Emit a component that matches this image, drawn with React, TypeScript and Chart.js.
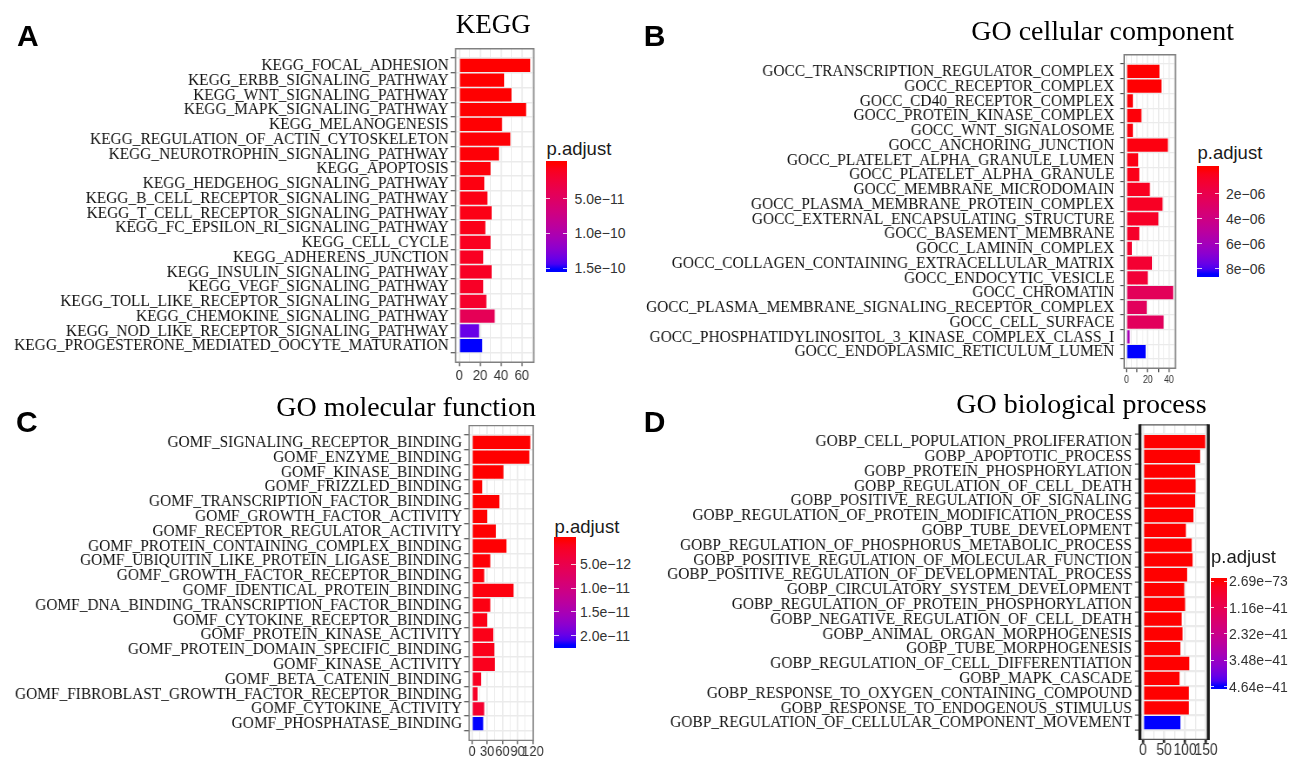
import React, { useEffect, useRef } from "react";
import { Chart, registerables } from "chart.js";

Chart.register(...registerables);

// ================= DATA =================
const keggTerms = [
  "KEGG_FOCAL_ADHESION",
  "KEGG_ERBB_SIGNALING_PATHWAY",
  "KEGG_WNT_SIGNALING_PATHWAY",
  "KEGG_MAPK_SIGNALING_PATHWAY",
  "KEGG_MELANOGENESIS",
  "KEGG_REGULATION_OF_ACTIN_CYTOSKELETON",
  "KEGG_NEUROTROPHIN_SIGNALING_PATHWAY",
  "KEGG_APOPTOSIS",
  "KEGG_HEDGEHOG_SIGNALING_PATHWAY",
  "KEGG_B_CELL_RECEPTOR_SIGNALING_PATHWAY",
  "KEGG_T_CELL_RECEPTOR_SIGNALING_PATHWAY",
  "KEGG_FC_EPSILON_RI_SIGNALING_PATHWAY",
  "KEGG_CELL_CYCLE",
  "KEGG_ADHERENS_JUNCTION",
  "KEGG_INSULIN_SIGNALING_PATHWAY",
  "KEGG_VEGF_SIGNALING_PATHWAY",
  "KEGG_TOLL_LIKE_RECEPTOR_SIGNALING_PATHWAY",
  "KEGG_CHEMOKINE_SIGNALING_PATHWAY",
  "KEGG_NOD_LIKE_RECEPTOR_SIGNALING_PATHWAY",
  "KEGG_PROGESTERONE_MEDIATED_OOCYTE_MATURATION",
];
const keggCounts = [68, 43, 50, 64, 41, 49, 38, 30, 24, 27, 31, 25, 30, 23, 31, 23, 26, 34, 19, 22];
const keggPadj = [
  3.2e-15, 1.1e-13, 2.0e-13, 3.5e-13, 6.4e-13, 1.2e-12, 1.8e-12, 2.3e-12, 3.9e-12, 5.1e-12,
  6.0e-12, 6.8e-12, 9.5e-12, 1.1e-11, 1.2e-11, 1.3e-11, 1.6e-11, 4.2e-11, 1.36e-10, 1.51e-10,
];
const keggLegendValues = [5e-11, 1e-10, 1.5e-10];
const keggLegendLabels = ["5.0e\u221211", "1.0e\u221210", "1.5e\u221210"];
const keggXBreaks = [0, 20, 40, 60];
const keggXLabels = [0, 20, 40, 60];
const keggXMinor = [10, 30, 50, 70];

const goccTerms = [
  "GOCC_TRANSCRIPTION_REGULATOR_COMPLEX",
  "GOCC_RECEPTOR_COMPLEX",
  "GOCC_CD40_RECEPTOR_COMPLEX",
  "GOCC_PROTEIN_KINASE_COMPLEX",
  "GOCC_WNT_SIGNALOSOME",
  "GOCC_ANCHORING_JUNCTION",
  "GOCC_PLATELET_ALPHA_GRANULE_LUMEN",
  "GOCC_PLATELET_ALPHA_GRANULE",
  "GOCC_MEMBRANE_MICRODOMAIN",
  "GOCC_PLASMA_MEMBRANE_PROTEIN_COMPLEX",
  "GOCC_EXTERNAL_ENCAPSULATING_STRUCTURE",
  "GOCC_BASEMENT_MEMBRANE",
  "GOCC_LAMININ_COMPLEX",
  "GOCC_COLLAGEN_CONTAINING_EXTRACELLULAR_MATRIX",
  "GOCC_ENDOCYTIC_VESICLE",
  "GOCC_CHROMATIN",
  "GOCC_PLASMA_MEMBRANE_SIGNALING_RECEPTOR_COMPLEX",
  "GOCC_CELL_SURFACE",
  "GOCC_PHOSPHATIDYLINOSITOL_3_KINASE_COMPLEX_CLASS_I",
  "GOCC_ENDOPLASMIC_RETICULUM_LUMEN",
];
const goccCounts = [31, 33, 6, 14, 6, 39, 11, 12, 22, 34, 30, 12, 5, 24, 20, 44, 19, 35, 3, 18];
const goccPadj = [
  3.1e-8, 6.0e-8, 1.2e-7, 1.5e-7, 2.0e-7, 2.6e-7, 3.4e-7, 4.1e-7, 6.2e-7, 7.0e-7,
  7.9e-7, 8.8e-7, 1.0e-6, 1.1e-6, 1.3e-6, 2.5e-6, 2.6e-6, 2.6e-6, 5.9e-6, 8.45e-6,
];
const goccLegendValues = [2e-6, 4e-6, 6e-6, 8e-6];
const goccLegendLabels = ["2e\u221206", "4e\u221206", "6e\u221206", "8e\u221206"];
const goccXBreaks = [0, 10, 20, 30, 40];
const goccXLabels = [0, 20, 40];
const goccXMinor = [5, 15, 25, 35, 45];

const gomfTerms = [
  "GOMF_SIGNALING_RECEPTOR_BINDING",
  "GOMF_ENZYME_BINDING",
  "GOMF_KINASE_BINDING",
  "GOMF_FRIZZLED_BINDING",
  "GOMF_TRANSCRIPTION_FACTOR_BINDING",
  "GOMF_GROWTH_FACTOR_ACTIVITY",
  "GOMF_RECEPTOR_REGULATOR_ACTIVITY",
  "GOMF_PROTEIN_CONTAINING_COMPLEX_BINDING",
  "GOMF_UBIQUITIN_LIKE_PROTEIN_LIGASE_BINDING",
  "GOMF_GROWTH_FACTOR_RECEPTOR_BINDING",
  "GOMF_IDENTICAL_PROTEIN_BINDING",
  "GOMF_DNA_BINDING_TRANSCRIPTION_FACTOR_BINDING",
  "GOMF_CYTOKINE_RECEPTOR_BINDING",
  "GOMF_PROTEIN_KINASE_ACTIVITY",
  "GOMF_PROTEIN_DOMAIN_SPECIFIC_BINDING",
  "GOMF_KINASE_ACTIVITY",
  "GOMF_BETA_CATENIN_BINDING",
  "GOMF_FIBROBLAST_GROWTH_FACTOR_RECEPTOR_BINDING",
  "GOMF_CYTOKINE_ACTIVITY",
  "GOMF_PHOSPHATASE_BINDING",
];
const gomfCounts = [115, 113, 62, 20, 54, 30, 47, 68, 36, 24, 82, 36, 30, 42, 44, 45, 18, 11, 24, 22];
const gomfPadj = [
  1.2e-19, 4.0e-18, 2.1e-16, 5.5e-15, 1.0e-14, 2.3e-14, 6.1e-14, 1.1e-13, 2.4e-13, 3.9e-13,
  5.0e-13, 6.6e-13, 8.7e-13, 9.9e-13, 1.1e-12, 1.3e-12, 1.6e-12, 2.0e-12, 2.6e-12, 2.2e-11,
];
const gomfLegendValues = [5e-12, 1e-11, 1.5e-11, 2e-11];
const gomfLegendLabels = ["5.0e\u221212", "1.0e\u221211", "1.5e\u221211", "2.0e\u221211"];
const gomfXBreaks = [0, 30, 60, 90, 120];
const gomfXLabels = [0, 30, 60, 90, 120];
const gomfXMinor = [15, 45, 75, 105];

const gobpTerms = [
  "GOBP_CELL_POPULATION_PROLIFERATION",
  "GOBP_APOPTOTIC_PROCESS",
  "GOBP_PROTEIN_PHOSPHORYLATION",
  "GOBP_REGULATION_OF_CELL_DEATH",
  "GOBP_POSITIVE_REGULATION_OF_SIGNALING",
  "GOBP_REGULATION_OF_PROTEIN_MODIFICATION_PROCESS",
  "GOBP_TUBE_DEVELOPMENT",
  "GOBP_REGULATION_OF_PHOSPHORUS_METABOLIC_PROCESS",
  "GOBP_POSITIVE_REGULATION_OF_MOLECULAR_FUNCTION",
  "GOBP_POSITIVE_REGULATION_OF_DEVELOPMENTAL_PROCESS",
  "GOBP_CIRCULATORY_SYSTEM_DEVELOPMENT",
  "GOBP_REGULATION_OF_PROTEIN_PHOSPHORYLATION",
  "GOBP_NEGATIVE_REGULATION_OF_CELL_DEATH",
  "GOBP_ANIMAL_ORGAN_MORPHOGENESIS",
  "GOBP_TUBE_MORPHOGENESIS",
  "GOBP_REGULATION_OF_CELL_DIFFERENTIATION",
  "GOBP_MAPK_CASCADE",
  "GOBP_RESPONSE_TO_OXYGEN_CONTAINING_COMPOUND",
  "GOBP_RESPONSE_TO_ENDOGENOUS_STIMULUS",
  "GOBP_REGULATION_OF_CELLULAR_COMPONENT_MOVEMENT",
];
const gobpCounts = [148, 136, 124, 125, 124, 120, 102, 116, 118, 105, 98, 100, 92, 94, 89, 110, 87, 109, 109, 89];
const gobpPadj = [
  2.69e-73, 1.1e-70, 3.4e-68, 8.2e-66, 5.0e-65, 2.2e-63, 7.1e-60, 1.5e-59, 3.3e-58, 9.0e-57,
  2.4e-55, 6.8e-54, 1.9e-52, 4.4e-51, 8.7e-50, 2.3e-48, 6.1e-47, 1.2e-45, 5.5e-44, 4.64e-41,
];
const gobpLegendValues = [2.69e-73, 1.16e-41, 2.32e-41, 3.48e-41, 4.64e-41];
const gobpLegendLabels = ["2.69e\u221273", "1.16e\u221241", "2.32e\u221241", "3.48e\u221241", "4.64e\u221241"];
const gobpXBreaks = [0, 50, 100, 150];
const gobpXLabels = [0, 50, 100, 150];
const gobpXMinor = [25, 75, 125];

// ================= COLOURS (CIELAB ramp red -> blue, like ggplot) =================
const SERIF = '"Liberation Serif", "Times New Roman", serif';
const SANS = '"Liberation Sans", Arial, sans-serif';

const toLin = (c: number) => {
  c /= 255;
  return c <= 0.04045 ? c / 12.92 : Math.pow((c + 0.055) / 1.055, 2.4);
};
const fromLin = (c: number) => {
  const v = c <= 0.0031308 ? 12.92 * c : 1.055 * Math.pow(Math.max(c, 0), 1 / 2.4) - 0.055;
  return Math.round(Math.min(1, Math.max(0, v)) * 255);
};
const WX = 0.95047;
const WZ = 1.08883;
function rgbToLab(r: number, g: number, b: number) {
  const R = toLin(r), G = toLin(g), B = toLin(b);
  const X = (0.4124564 * R + 0.3575761 * G + 0.1804375 * B) / WX;
  const Y = 0.2126729 * R + 0.7151522 * G + 0.072175 * B;
  const Z = (0.0193339 * R + 0.119192 * G + 0.9503041 * B) / WZ;
  const f = (t: number) => (t > 216 / 24389 ? Math.cbrt(t) : ((24389 / 27) * t + 16) / 116);
  const fx = f(X), fy = f(Y), fz = f(Z);
  return [116 * fy - 16, 500 * (fx - fy), 200 * (fy - fz)];
}
function labToRgb(L: number, a: number, b: number) {
  const fy = (L + 16) / 116;
  const fx = fy + a / 500;
  const fz = fy - b / 200;
  const inv = (t: number) => {
    const t3 = t * t * t;
    return t3 > 216 / 24389 ? t3 : (116 * t - 16) / (24389 / 27);
  };
  const X = inv(fx) * WX, Y = inv(fy), Z = inv(fz) * WZ;
  const R = 3.2404542 * X - 1.5371385 * Y - 0.4985314 * Z;
  const G = -0.969266 * X + 1.8760108 * Y + 0.041556 * Z;
  const B = 0.0556434 * X - 0.2040259 * Y + 1.0572252 * Z;
  return [fromLin(R), fromLin(G), fromLin(B)];
}
const LOW_LAB = rgbToLab(255, 0, 0);
const HIGH_LAB = rgbToLab(0, 0, 255);
function fillAt(t: number) {
  const u = Math.min(1, Math.max(0, t));
  const L = LOW_LAB[0] + (HIGH_LAB[0] - LOW_LAB[0]) * u;
  const a = LOW_LAB[1] + (HIGH_LAB[1] - LOW_LAB[1]) * u;
  const b = LOW_LAB[2] + (HIGH_LAB[2] - LOW_LAB[2]) * u;
  const [r, g, bb] = labToRgb(L, a, b);
  return `rgb(${r},${g},${bb})`;
}

// ================= PANEL SPECS (page coordinates) =================
// The reference text is horizontally condensed; each chart canvas is drawn wider and squeezed.
const SQUEEZE = 0.87;

type Rect = { left: number; top: number; width: number; height: number };
type Frame = { left: number; right: number; top: number; bottom: number };
type FrameStyle = { tbColor: string; tbWidth: number; lrColor: string; lrWidth: number };
type PanelSpec = {
  terms: string[];
  counts: number[];
  padj: number[];
  xBreaks: number[];
  xLabels: number[];
  xMinor: number[];
  canvas: Rect;
  frame: Frame;
  xAxisH: number;
  yTickLen: number;
  yPad: number;
  yFont: number;
  xTickLen: number;
  xPad: number;
  xFontInternal: number;
  xTickWidth: number;
  gridMajorW: number;
  gridMinorW: number;
  frameStyle: FrameStyle;
};

const greyFrame: FrameStyle = { tbColor: "#808080", tbWidth: 1.4, lrColor: "#808080", lrWidth: 1.4 };
const darkFrame: FrameStyle = { tbColor: "#555555", tbWidth: 1.3, lrColor: "#1a1a1a", lrWidth: 3 };

const panelA: PanelSpec = {
  terms: keggTerms, counts: keggCounts, padj: keggPadj,
  xBreaks: keggXBreaks, xLabels: keggXLabels, xMinor: keggXMinor,
  canvas: { left: 0, top: 28, width: 544, height: 357 },
  frame: { left: 455.65, right: 533.8, top: 48.7, bottom: 362.3 },
  xAxisH: 20, yTickLen: 5, yPad: 2, yFont: 15.4,
  xTickLen: 4, xPad: 2, xFontInternal: 15, xTickWidth: 1,
  gridMajorW: 1.5, gridMinorW: 0.8, frameStyle: greyFrame,
};
const panelB: PanelSpec = {
  terms: goccTerms, counts: goccCounts, padj: goccPadj,
  xBreaks: goccXBreaks, xLabels: goccXLabels, xMinor: goccXMinor,
  canvas: { left: 640, top: 34, width: 545, height: 353 },
  frame: { left: 1124.2, right: 1175.5, top: 54.7, bottom: 368.3 },
  xAxisH: 16, yTickLen: 4, yPad: 6, yFont: 15.4,
  xTickLen: 4, xPad: 3, xFontInternal: 10, xTickWidth: 1,
  gridMajorW: 1.3, gridMinorW: 0.7, frameStyle: greyFrame,
};
const panelC: PanelSpec = {
  terms: gomfTerms, counts: gomfCounts, padj: gomfPadj,
  xBreaks: gomfXBreaks, xLabels: gomfXLabels, xMinor: gomfXMinor,
  canvas: { left: 0, top: 405, width: 548, height: 353 },
  frame: { left: 469.1, right: 533.2, top: 425.65, bottom: 740.35 },
  xAxisH: 16, yTickLen: 5, yPad: 2, yFont: 15.4,
  xTickLen: 4, xPad: 0, xFontInternal: 15, xTickWidth: 1,
  gridMajorW: 1.5, gridMinorW: 0.8, frameStyle: greyFrame,
};
const panelD: PanelSpec = {
  terms: gobpTerms, counts: gobpCounts, padj: gobpPadj,
  xBreaks: gobpXBreaks, xLabels: gobpXLabels, xMinor: gobpXMinor,
  canvas: { left: 640, top: 404, width: 582, height: 354 },
  frame: { left: 1139.9, right: 1208.3, top: 424.9, bottom: 739.4 },
  xAxisH: 16, yTickLen: 5, yPad: 3, yFont: 15.4,
  xTickLen: 3.5, xPad: 0, xFontInternal: 16, xTickWidth: 2.5,
  gridMajorW: 2.2, gridMinorW: 1.2, frameStyle: darkFrame,
};

// ================= CHART BUILDING =================
function framePlugin(fs: FrameStyle, sx: number) {
  return {
    id: "panelFrame",
    afterDraw(chart: any) {
      const { ctx, chartArea: a } = chart;
      ctx.save();
      ctx.lineCap = "butt";
      ctx.strokeStyle = fs.tbColor;
      ctx.lineWidth = fs.tbWidth;
      ctx.beginPath();
      ctx.moveTo(a.left, a.top);
      ctx.lineTo(a.right, a.top);
      ctx.moveTo(a.left, a.bottom);
      ctx.lineTo(a.right, a.bottom);
      ctx.stroke();
      const ext = fs.tbWidth / 2;
      ctx.strokeStyle = fs.lrColor;
      ctx.lineWidth = fs.lrWidth / sx;
      ctx.beginPath();
      ctx.moveTo(a.left, a.top - ext);
      ctx.lineTo(a.left, a.bottom + ext);
      ctx.moveTo(a.right, a.top - ext);
      ctx.lineTo(a.right, a.bottom + ext);
      ctx.stroke();
      ctx.restore();
    },
  };
}

function internalWidth(s: PanelSpec) {
  return Math.round(s.canvas.width / SQUEEZE);
}

function buildConfig(s: PanelSpec): any {
  const n = s.terms.length;
  const maxC = Math.max(...s.counts);
  const pmin = Math.min(...s.padj);
  const pmax = Math.max(...s.padj);
  const colors = s.padj.map((p) => fillAt((p - pmin) / (pmax - pmin)));
  const c = s.canvas;
  const f = s.frame;
  const W = internalWidth(s);
  const sx = c.width / W; // effective horizontal squeeze
  const padTop = f.top - c.top;
  const padRight = (c.left + c.width - f.right) / sx;
  const padBottom = c.top + c.height - f.bottom - s.xAxisH;
  const yWidth = (f.left - c.left) / sx;
  const tickVals = [...s.xBreaks, ...s.xMinor].sort((a, b) => a - b);
  const isBreak = (v: any) => s.xBreaks.includes(v);

  return {
    type: "bar",
    data: {
      datasets: [
        {
          data: s.counts.map((v, i) => ({ x: v, y: i + 1 })),
          backgroundColor: colors,
          borderWidth: 0,
          barPercentage: 0.9,
          categoryPercentage: 1,
        },
      ],
    },
    options: {
      indexAxis: "y",
      animation: false,
      responsive: false,
      events: [],
      layout: { padding: { left: 0, top: padTop, right: padRight, bottom: padBottom } },
      plugins: { legend: { display: false }, tooltip: { enabled: false }, title: { display: false } },
      scales: {
        x: {
          type: "linear",
          position: "bottom",
          min: -0.05 * maxC,
          max: 1.05 * maxC,
          bounds: "data",
          afterBuildTicks: (sc: any) => {
            sc.ticks = tickVals.map((v) => ({ value: v }));
          },
          afterFit: (sc: any) => {
            sc.height = s.xAxisH;
          },
          ticks: {
            autoSkip: false,
            maxRotation: 0,
            minRotation: 0,
            padding: s.xPad,
            color: "#333333",
            font: { family: SANS, size: s.xFontInternal, lineHeight: 1 },
            callback: (v: any) => (s.xLabels.includes(v) ? String(v) : ""),
          },
          grid: {
            color: "#ebebeb",
            lineWidth: (ctx: any) => (isBreak(ctx.tick && ctx.tick.value) ? s.gridMajorW : s.gridMinorW) / sx,
            drawTicks: true,
            tickLength: s.xTickLen,
            tickWidth: s.xTickWidth / sx,
            tickColor: (ctx: any) => (isBreak(ctx.tick && ctx.tick.value) ? "#333333" : "rgba(0,0,0,0)"),
          },
          border: { display: false },
        },
        y: {
          type: "linear",
          reverse: true,
          min: 0.4,
          max: n + 0.6,
          bounds: "data",
          afterBuildTicks: (sc: any) => {
            sc.ticks = s.terms.map((_, i) => ({ value: i + 1 }));
          },
          afterFit: (sc: any) => {
            sc.width = yWidth;
          },
          ticks: {
            autoSkip: false,
            padding: s.yPad / sx,
            color: "#111111",
            font: { family: SERIF, size: s.yFont / sx, lineHeight: 1.2 },
            callback: (_v: any, i: number) => s.terms[i],
          },
          grid: {
            color: "#ebebeb",
            lineWidth: s.gridMajorW,
            drawTicks: true,
            tickLength: s.yTickLen / sx,
            tickWidth: 1,
            tickColor: "#333333",
          },
          border: { display: false },
        },
      },
    },
    plugins: [framePlugin(s.frameStyle, sx)],
  };
}

function BarPanel({ spec }: { spec: PanelSpec }) {
  const ref = useRef<HTMLCanvasElement | null>(null);
  useEffect(() => {
    if (!ref.current) return;
    const chart = new Chart(ref.current, buildConfig(spec));
    return () => chart.destroy();
  }, [spec]);
  const c = spec.canvas;
  const W = internalWidth(spec);
  const sx = c.width / W;
  return (
    <canvas
      ref={ref}
      width={W}
      height={c.height}
      style={{
        position: "absolute",
        left: c.left,
        top: c.top,
        width: W,
        height: c.height,
        transform: `scaleX(${sx})`,
        transformOrigin: "0 0",
      }}
    />
  );
}

// ================= HTML TEXT / LEGENDS =================
function Txt(props: {
  x: number;
  y: number;
  size: number;
  family: string;
  weight?: number;
  color?: string;
  children: React.ReactNode;
}) {
  const k = props.family === SERIF ? 0.3375 : 0.3465;
  return (
    <div
      style={{
        position: "absolute",
        left: props.x,
        top: props.y - k * props.size,
        fontFamily: props.family,
        fontSize: props.size,
        fontWeight: props.weight ?? 400,
        lineHeight: 0,
        whiteSpace: "nowrap",
        color: props.color ?? "#000",
      }}
    >
      {props.children}
    </div>
  );
}

function ColorBar(props: {
  bar: Rect;
  titleX: number;
  titleY: number;
  labelX: number;
  values: number[];
  labels: string[];
  padj: number[];
}) {
  const { bar } = props;
  const pmin = Math.min(...props.padj);
  const pmax = Math.max(...props.padj);
  const stops: string[] = [];
  for (let j = 0; j <= 20; j++) {
    const t = j / 20;
    stops.push(`${fillAt(t)} ${(2.5 + 95 * t).toFixed(2)}%`);
  }
  const grad = `linear-gradient(to bottom, ${stops.join(", ")})`;
  const tw = bar.width / 5;
  return (
    <>
      <Txt x={props.titleX} y={props.titleY} size={18.5} family={SANS} color="#1a1a1a">
        p.adjust
      </Txt>
      <div
        style={{ position: "absolute", left: bar.left, top: bar.top, width: bar.width, height: bar.height, background: grad }}
      />
      {props.values.map((v, i) => {
        const ty = bar.top + bar.height * (0.025 + (0.95 * (v - pmin)) / (pmax - pmin));
        return (
          <React.Fragment key={i}>
            <div
              style={{ position: "absolute", left: bar.left, top: ty - 0.5, width: tw, height: 1, background: "rgba(255,255,255,0.8)" }}
            />
            <div
              style={{
                position: "absolute",
                left: bar.left + bar.width - tw,
                top: ty - 0.5,
                width: tw,
                height: 1,
                background: "rgba(255,255,255,0.8)",
              }}
            />
            <Txt x={props.labelX} y={ty + 0.36 * 14} size={14} family={SANS} color="#333333">
              {props.labels[i]}
            </Txt>
          </React.Fragment>
        );
      })}
    </>
  );
}

export default function App() {
  return (
    <div
      style={{
        position: "absolute",
        left: 0,
        top: 0,
        width: 1298,
        height: 758,
        overflow: "hidden",
        background: "#ffffff",
      }}
    >
      <BarPanel spec={panelA} />
      <BarPanel spec={panelB} />
      <BarPanel spec={panelC} />
      <BarPanel spec={panelD} />

      {/* panel letters */}
      <Txt x={17} y={46.7} size={30} family={SANS} weight={700}>A</Txt>
      <Txt x={643.8} y={46.7} size={30} family={SANS} weight={700}>B</Txt>
      <Txt x={16} y={432.7} size={30} family={SANS} weight={700}>C</Txt>
      <Txt x={643.8} y={432.7} size={30} family={SANS} weight={700}>D</Txt>

      {/* titles */}
      <Txt x={455.7} y={33.2} size={27} family={SERIF}>KEGG</Txt>
      <Txt x={971.2} y={40.5} size={28} family={SERIF}>GO cellular component</Txt>
      <Txt x={276.2} y={416} size={28} family={SERIF}>GO molecular function</Txt>
      <Txt x={956.2} y={413.3} size={28} family={SERIF}>GO biological process</Txt>

      {/* colour bars */}
      <ColorBar
        bar={{ left: 546, top: 160.7, width: 21, height: 111 }}
        titleX={546.5}
        titleY={155}
        labelX={574.5}
        values={keggLegendValues}
        labels={keggLegendLabels}
        padj={keggPadj}
      />
      <ColorBar
        bar={{ left: 1197.3, top: 166, width: 21.7, height: 111.3 }}
        titleX={1197.5}
        titleY={159.3}
        labelX={1226}
        values={goccLegendValues}
        labels={goccLegendLabels}
        padj={goccPadj}
      />
      <ColorBar
        bar={{ left: 554.3, top: 537.3, width: 21.4, height: 111 }}
        titleX={554.5}
        titleY={533.3}
        labelX={580}
        values={gomfLegendValues}
        labels={gomfLegendLabels}
        padj={gomfPadj}
      />
      <ColorBar
        bar={{ left: 1211, top: 578.3, width: 15.7, height: 111 }}
        titleX={1211}
        titleY={563.3}
        labelX={1229}
        values={gobpLegendValues}
        labels={gobpLegendLabels}
        padj={gobpPadj}
      />
    </div>
  );
}
